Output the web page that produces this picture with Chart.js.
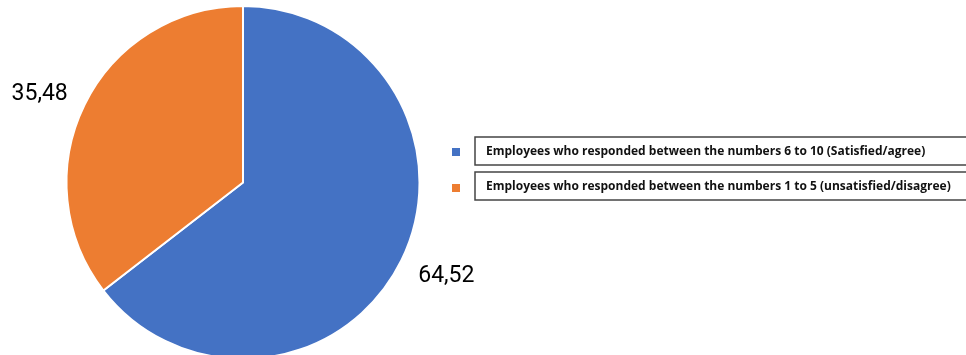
<!DOCTYPE html>
<html>
<head>
<meta charset="utf-8">
<script src="https://cdn.jsdelivr.net/npm/chart.js@4.4.0/dist/chart.umd.min.js"></script>
<style>
  html, body { margin: 0; padding: 0; background: #fff; overflow: hidden; }
  #wrap { width: 966px; height: 360px; position: relative; }
</style>
</head>
<body>
<div id="wrap"><canvas id="pie"></canvas></div>
<script>
// Données
const labels = [
  'Employees who responded between the numbers 6 to 10 (Satisfied/agree)',
  'Employees who responded between the numbers 1 to 5 (unsatisfied/disagree)'
];
const values = [64.52, 35.48];
const valueLabels = ['64,52', '35,48'];
const colors = ['#4472C4', '#ED7D31'];

// Étiquettes de valeurs à l'extérieur des secteurs
const outsideLabels = {
  id: 'outsideLabels',
  afterDatasetsDraw(chart) {
    const ctx = chart.ctx;
    const meta = chart.getDatasetMeta(0);
    ctx.save();
    ctx.font = '23px Roboto, sans-serif';
    ctx.fillStyle = '#000';
    ctx.textAlign = 'center';
    ctx.textBaseline = 'middle';
    meta.data.forEach((arc, i) => {
      const p = arc.getProps(['x', 'y', 'startAngle', 'endAngle', 'outerRadius'], true);
      const mid = (p.startAngle + p.endAngle) / 2;
      const rx = p.outerRadius + 50;
      const ry = p.outerRadius + 30;
      ctx.fillText(valueLabels[i], p.x + Math.cos(mid) * rx, p.y + Math.sin(mid) * ry + 2.5);
    });
    ctx.restore();
  }
};

// Légende encadrée à droite
const boxedLegend = {
  id: 'boxedLegend',
  afterDraw(chart) {
    const ctx = chart.ctx;
    ctx.save();
    ctx.font = 'bold 12px "Open Sans", sans-serif';
    ctx.textBaseline = 'middle';
    labels.forEach((lab, i) => {
      const top = 137 + i * 35;
      ctx.fillStyle = colors[i];
      ctx.fillRect(452, 148 + i * 36, 8, 8);
      ctx.strokeStyle = '#444';
      ctx.lineWidth = 1.5;
      ctx.strokeRect(475, top, 520, 28);
      ctx.fillStyle = '#111';
      ctx.fillText(lab, 486, top + 15);
    });
    ctx.restore();
  }
};

new Chart(document.getElementById('pie'), {
  type: 'pie',
  data: {
    labels: labels,
    datasets: [{
      data: values,
      backgroundColor: colors,
      borderColor: '#fff',
      borderWidth: 2
    }]
  },
  options: {
    responsive: true,
    maintainAspectRatio: false,
    animation: false,
    layout: { padding: { left: 65, right: 545, top: 5, bottom: 0 } },
    plugins: {
      legend: { display: false },
      tooltip: { enabled: false }
    }
  },
  plugins: [outsideLabels, boxedLegend]
});
</script>
</body>
</html>
